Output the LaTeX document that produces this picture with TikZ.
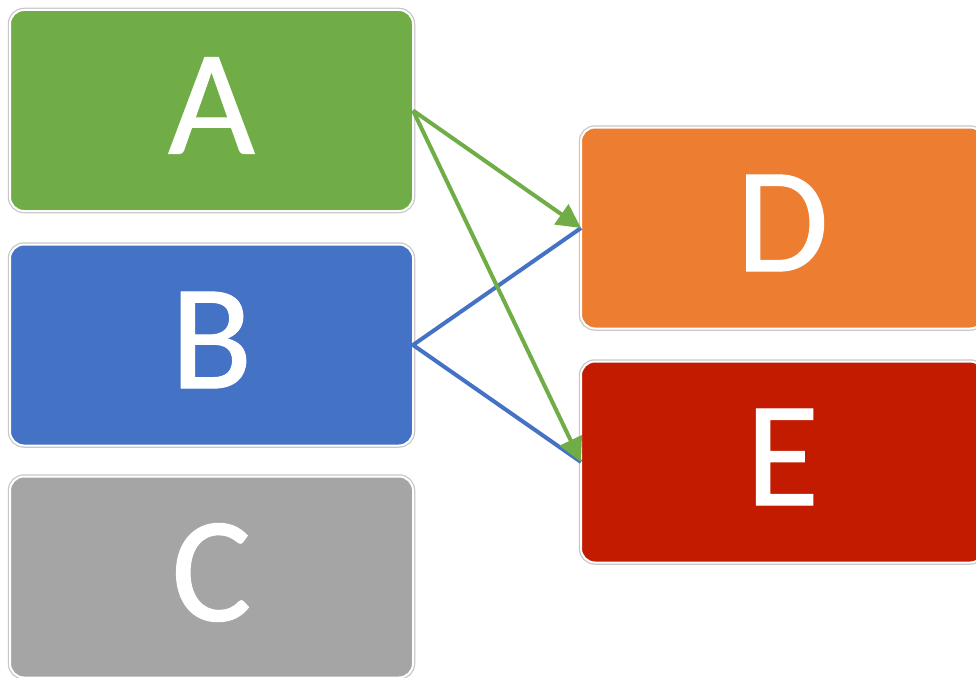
\documentclass[tikz,border=0pt]{standalone}
\usepackage{fontspec}
\setmainfont{Carlito}
\newfontfamily\letterfont{Carlito}[FakeBold=0.7]
\usetikzlibrary{arrows.meta}
\definecolor{boxgreen}{HTML}{70AD47}
\definecolor{boxblue}{HTML}{4472C4}
\definecolor{boxgray}{HTML}{A5A5A5}
\definecolor{boxorange}{HTML}{ED7D31}
\definecolor{boxred}{HTML}{C21B00}
\tikzset{
	letterbox/.style={rectangle, rounded corners=14pt, fill=#1, draw=white, line width=2pt,
		preaction={draw=black!22, line width=4.5pt},
		minimum width=403pt, minimum height=201pt, inner sep=0pt, outer sep=0pt,
		text=white, text depth=10pt, font=\letterfont\fontsize{150}{152}\selectfont},
	greenlink/.style={draw=boxgreen, line width=4pt, -{Triangle[length=24pt,width=24pt]}},
	bluelink/.style={draw=boxblue, line width=4pt},
}

\begin{document}
\begin{tikzpicture}[x=1pt, y=-1pt]
		%%%%% START %%%%%
		\useasboundingbox (0, 0) rectangle (976, 677);
		
		\node[letterbox=boxgreen] (a) at (211.5, 110.5) {A};
		\node[letterbox=boxblue] (b) at (211.5, 345) {B};
		\node[letterbox=boxgray] (c) at (211.5, 577) {C};
		
		\node[letterbox=boxorange] (d) at (782.5, 228) {D};
		\node[letterbox=boxred] (e) at (782.5, 462) {E};
		
		\draw[bluelink] (d.west) -- (b.east) -- (e.west);
		
		\draw[greenlink] (a.east) -- (d.west);
		\draw[greenlink] (a.east) -- (e.west);
		
		%%%%% END %%%%%
	\end{tikzpicture}
\end{document}
